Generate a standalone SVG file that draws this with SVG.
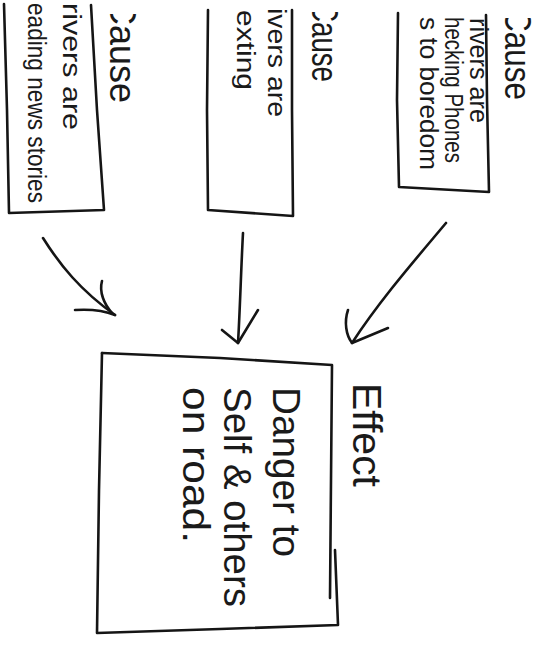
<svg xmlns="http://www.w3.org/2000/svg" width="547" height="655" viewBox="0 0 547 655">
<style>
  .ln { fill: none; stroke: #151515; stroke-width: 2.6; stroke-linecap: round; stroke-linejoin: round; }
  .t { font-family: "Liberation Sans", Arial, sans-serif; fill: #1a1a1a; lengthAdjust: spacingAndGlyphs; }
  .cause { font-size: 36px; }
  .small { font-size: 25px; }
  .big { font-size: 38px; }
  .eff { font-size: 40px; }
</style>
<defs>
  <clipPath id="crop1"><rect x="0" y="18" width="547" height="637"/></clipPath>
  <clipPath id="crop2"><rect x="0" y="12" width="547" height="643"/></clipPath>
  <clipPath id="crop3"><rect x="0" y="14" width="547" height="641"/></clipPath>
</defs>
<rect width="547" height="655" fill="#ffffff"/>

<g id="cause-phones">
  <path class="ln" d="M398,13 L397,100 L399,187 L489,192 L487,100 L486,15"/>
  <g clip-path="url(#crop1)">
    <text class="t cause" transform="translate(505,9) rotate(90)" textLength="91" lengthAdjust="spacingAndGlyphs">Cause</text>
  </g>
  <text class="t small" transform="translate(470,18) rotate(90)" textLength="105" lengthAdjust="spacingAndGlyphs">rivers are</text>
  <text class="t small" transform="translate(445,17) rotate(90)" textLength="146" lengthAdjust="spacingAndGlyphs">hecking Phones</text>
  <text class="t small" transform="translate(420,17) rotate(90)" textLength="153" lengthAdjust="spacingAndGlyphs">s to boredom</text>
</g>

<g id="cause-texting">
  <path class="ln" d="M208,10 L207,110 L208,210 L293,216 L292,110 L292,10"/>
  <g clip-path="url(#crop2)">
    <text class="t cause" transform="translate(312,2) rotate(90)" textLength="80" lengthAdjust="spacingAndGlyphs">Cause</text>
  </g>
  <text class="t small" transform="translate(268,8) rotate(90)" textLength="109" lengthAdjust="spacingAndGlyphs">ivers are</text>
  <text class="t small" transform="translate(237,10) rotate(90)" textLength="80" lengthAdjust="spacingAndGlyphs">exting</text>
</g>

<g id="cause-news">
  <path class="ln" d="M4,4 L7,110 L9,213 L104,210 L97,110 L91,5"/>
  <g clip-path="url(#crop3)">
    <text class="t cause" transform="translate(110,-1) rotate(90)" textLength="104" lengthAdjust="spacingAndGlyphs">Cause</text>
  </g>
  <text class="t small" transform="translate(63,3) rotate(90)" textLength="127" lengthAdjust="spacingAndGlyphs">rivers are</text>
  <text class="t small" transform="translate(28,3) rotate(90)" textLength="200" lengthAdjust="spacingAndGlyphs">eading news stories</text>
</g>

<g id="effect">
  <path class="ln" d="M102,353 L220,358 L332,365 L331,480 L330,598"/>
  <path class="ln" d="M335,550 L338,625 L220,629 L97,633 L99,490 L102,353"/>
  <text class="t eff" transform="translate(353,383) rotate(90)" textLength="104" lengthAdjust="spacingAndGlyphs">Effect</text>
  <text class="t big" transform="translate(273,387) rotate(90)" textLength="170" lengthAdjust="spacingAndGlyphs">Danger to</text>
  <text class="t big" transform="translate(224,387) rotate(90)" textLength="220" lengthAdjust="spacingAndGlyphs">Self &amp; others</text>
  <text class="t big" transform="translate(183,387) rotate(90)" textLength="156" lengthAdjust="spacingAndGlyphs">on road.</text>
</g>

<g id="connectors">
  <path class="ln" d="M43,238 C60,265 80,290 115,315"/>
  <path class="ln" d="M102,281 C99,292 104,304 112,313"/>
  <path class="ln" d="M75,310 C90,309 105,311 115,315"/>
  <path class="ln" d="M243,233 C241,270 240,310 238,343"/>
  <path class="ln" d="M222,330 L238,343 L258,310"/>
  <path class="ln" d="M446,223 C415,260 380,300 352,343"/>
  <path class="ln" d="M348,310 C344,322 346,335 352,343 L388,328"/>
</g>
</svg>
